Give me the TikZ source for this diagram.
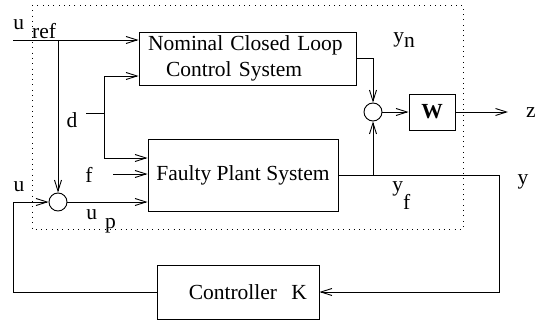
\documentclass[tikz,border=0pt]{standalone}
\usepackage{fontspec}
\setmainfont{Liberation Serif}
\usetikzlibrary{arrows.meta}

\begin{document}
\begin{tikzpicture}[
            x = 1pt, y = -1pt, % pixel-like units
            > = {Straight Barb[length=11pt,width=7pt]}, % arrow head style
            line width = 0.9pt, % line style
            font = \fontsize{21.5}{26}\selectfont
        ]

        \tikzstyle{block}=[
            draw = black,
            inner sep = 0pt,
            align = center
        ]
        \tikzstyle{sum}=[
            draw = black,
            circle,
            inner sep = 0pt,
            minimum size = 18pt
        ]
        \tikzstyle{lbl}=[inner sep = 0pt]

        \useasboundingbox (0,0) rectangle (542,326);

        % blocks
        \node[block, text width = 199pt, inner xsep = 9pt, minimum height = 53pt, align = left] (nom) at (247.5,58.5) {Nominal Closed Loop\\\hspace*{18pt}Control System};
        \node[block, minimum width = 190pt, minimum height = 72pt] (plant) at (243,175) {Faulty Plant System};
        \node[block, minimum width = 46pt, minimum height = 36pt] (w) at (432,112) {\textbf{W}};
        \node[block, text width = 138pt, inner xsep = 12pt, minimum height = 54pt, align = right] (ctrl) at (238,292) {Controller~~K};
        \node[sum] (s1) at (58,202) {};
        \node[sum] (s2) at (373,112) {};

        % free ends
        \coordinate (uref) at (13,40);
        \coordinate (din) at (86,113);
        \coordinate (dtop) at (104,76);
        \coordinate (dbot) at (104,158);
        \coordinate (fin) at (113,174);
        \coordinate (fb) at (13,202);
        \coordinate (yout) at (499,175);
        \coordinate (zout) at (508,112);

        % connectors
        \draw[->] (uref) -- (nom.west |- uref);
        \draw[->] (s1 |- uref) -- (s1.north);
        \draw (din) -- (din -| dtop);
        \draw[->] (dbot) -- (dtop) -- (nom.west |- dtop);
        \draw[->] (dbot) -- (plant.west |- dbot);
        \draw[->] (fin) -- (plant.west |- fin);
        \draw[->] (s1) -- (plant.west |- s1);
        \draw[->] (ctrl.west) -| (fb) -- (s1);
        \draw[->] (plant.east) -- (yout) |- (ctrl.east);
        \draw[->] (s2 |- plant.east) -- (s2.south);
        \draw[->] (nom.east) -| (s2.north);
        \draw[->] (s2) -- (w);
        \draw[->] (w) -- (zout);

        % boundary of the closed loop
        \draw[line width = 0.8pt, dash pattern = on 0.9pt off 4.4pt] (32,5) rectangle (463,229);

        % labels
        \node[lbl, anchor = base west] (luref) at (13,30) {u\hspace{8pt}\raisebox{-9pt}{ref}};
        \node[lbl, anchor = base] (ld) at (72,128) {d};
        \node[lbl, anchor = base] (lf) at (89,183) {f};
        \node[lbl, anchor = base] (lu) at (19,192) {u};
        \node[lbl, anchor = base west] (lup) at (86,220) {u\hspace{8pt}\raisebox{-9pt}{p}};
        \node[lbl, anchor = base west] (lyn) at (393,43) {y\raisebox{-5pt}{n}};
        \node[lbl, anchor = base west] (lyf) at (392,192) {y\raisebox{-18pt}{f}};
        \node[lbl, anchor = base] (ly) at (523,185) {y};
        \node[lbl, anchor = base] (lz) at (531,118) {z};

  \end{tikzpicture}
\end{document}
